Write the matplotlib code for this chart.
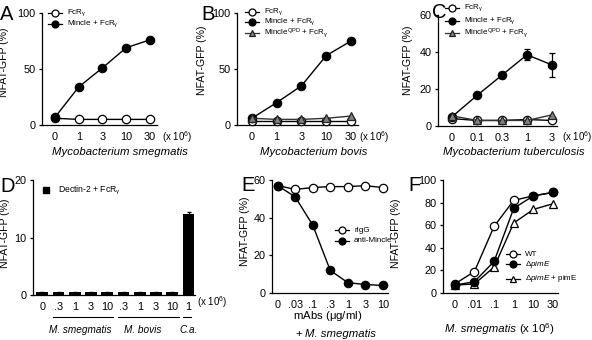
import matplotlib
matplotlib.use("Agg")
import matplotlib.pyplot as plt
from matplotlib.lines import Line2D

plt.rcParams["font.family"] = ["Liberation Sans", "DejaVu Sans"]
plt.rcParams["mathtext.fontset"] = "custom"
plt.rcParams["mathtext.rm"] = "Liberation Sans"
plt.rcParams["mathtext.it"] = "Liberation Sans:italic"
plt.rcParams["mathtext.default"] = "regular"

W, H = 592, 340

# panel A
a_x = ["0", "1", "3", "10", "30"]
a_fcr = [6, 5, 5, 5, 5]
a_mincle = [7, 34, 51, 69, 76]

# panel B
b_x = ["0", "1", "3", "10", "30"]
b_fcr = [4, 4, 4, 4, 4]
b_mincle = [6, 20, 35, 62, 75]
b_qpd = [6, 5, 5, 6, 8]

# panel C
c_x = ["0", "0.1", "0.3", "1", "3"]
c_fcr = [4, 3, 3, 3.5, 3]
c_mincle = [5, 16.5, 27.5, 38.5, 33]
c_mincle_err = [1, 1, 1.5, 3, 6.5]
c_qpd = [5.5, 3, 3, 3, 6]

# panel D
d_x = ["0", ".3", "1", "3", "10", ".3", "1", "3", "10", "1"]
d_vals = [0.5, 0.5, 0.45, 0.5, 0.45, 0.45, 0.5, 0.45, 0.45, 14.1]
d_err = [0.1, 0.1, 0.1, 0.1, 0.1, 0.1, 0.1, 0.1, 0.1, 0.3]
d_groups = ["M. smegmatis", "M. bovis", "C.a."]

# panel E
e_x = ["0", ".03", ".1", ".3", "1", "3", "10"]
e_rigg = [57, 55, 56, 56.5, 56.5, 57, 56]
e_anti = [57, 51, 36, 12, 5.5, 4.5, 4]

# panel F
f_x = ["0", ".01", ".1", "1", "10", "30"]
f_wt = [8, 19, 59, 82, 86, 89]
f_pime = [7, 10, 28, 75, 86, 89]
f_comp = [7, 8, 23, 62, 74, 79]

fig = plt.figure(figsize=(W / 100, H / 100), dpi=100)


def fx(x):
    return x / W


def fy(y):
    return 1 - y / H


def px_axes(left, top, right, bottom):
    return fig.add_axes([fx(left), fy(bottom), (right - left) / W, (bottom - top) / H])


def style(ax, labels, xlim, ylim, yticks, ylab_xy):
    ax.spines["top"].set_visible(False)
    ax.spines["right"].set_visible(False)
    ax.spines["left"].set_linewidth(0.9)
    ax.spines["bottom"].set_linewidth(0.9)
    ax.set_xlim(*xlim)
    ax.set_ylim(*ylim)
    ax.set_yticks(yticks)
    ax.set_xticks(range(len(labels)))
    ax.set_xticklabels(labels)
    ax.tick_params(axis="x", length=0, pad=5, labelsize=7.8)
    ax.tick_params(axis="y", length=2.5, width=0.9, direction="out", pad=2, labelsize=7.8)
    ax.set_ylabel("NFAT-GFP (%)", fontsize=7.6)
    ax.yaxis.set_label_coords(fx(ylab_xy[0]), fy(ylab_xy[1]), transform=fig.transFigure)


def figtext(x, y, s, **kw):
    kw.setdefault("fontsize", 8.2)
    kw.setdefault("ha", "center")
    kw.setdefault("va", "center")
    return fig.text(fx(x), fy(y), s, **kw)


def legend_row(xm, y, text, marker, mfc, mec="black", lc="black", ms=5):
    fig.add_artist(Line2D([fx(xm - 7), fx(xm + 7)], [fy(y), fy(y)], color=lc, lw=0.9,
                          transform=fig.transFigure))
    fig.add_artist(Line2D([fx(xm)], [fy(y)], marker=marker, mfc=mfc, mec=mec, ms=ms,
                          mew=0.9, transform=fig.transFigure))
    figtext(xm + 12, y, text, fontsize=5.8, ha="left")


open_kw = dict(marker="o", color="black", mfc="white", mec="black", ms=6, lw=1.0, mew=0.9,
               clip_on=False, zorder=3)
fill_kw = dict(marker="o", color="black", mfc="black", mec="black", ms=6, lw=1.0, mew=0.9,
               clip_on=False, zorder=4)
tri_kw = dict(marker="^", color="#333333", mfc="#808080", mec="#222222", ms=5.5, lw=1.0,
              mew=0.9, clip_on=False, zorder=5)

fcr = "FcR$_{\\gamma}$"
qpd = "Mincle$^{QPD}$ + " + fcr

# A
ax = px_axes(42, 13, 157, 125)
ax.plot(range(5), a_fcr, **open_kw)
ax.plot(range(5), a_mincle, **fill_kw)
style(ax, a_x, (-0.55, 4.3), (0, 100), [0, 50, 100], (9, 62))
figtext(120, 152, "Mycobacterium smegmatis", style="italic")
figtext(162, 137, "(x 10$^{6}$)", fontsize=7, ha="left")
legend_row(55, 13, fcr, "o", "white")
legend_row(55, 24, "Mincle + " + fcr, "o", "black")

# B
ax = px_axes(237, 13, 358, 125)
ax.plot(range(5), b_fcr, **open_kw)
ax.plot(range(5), b_mincle, **fill_kw)
ax.plot(range(5), b_qpd, **tri_kw)
style(ax, b_x, (-0.6, 4.28), (0, 100), [0, 50, 100], (207, 60))
figtext(314, 152, "Mycobacterium bovis", style="italic")
figtext(359, 137, "(x 10$^{6}$)", fontsize=7, ha="left")
legend_row(252, 12, fcr, "o", "white")
legend_row(252, 22, "Mincle + " + fcr, "o", "black")
legend_row(252, 33, qpd, "^", "#808080", mec="#222222", lc="#333333")

# C
ax = px_axes(438, 15, 557, 126)
ax.plot(range(5), c_fcr, **open_kw)
ax.errorbar(range(5), c_mincle, yerr=c_mincle_err, capsize=2.5, elinewidth=0.9,
            capthick=0.9, **fill_kw)
ax.plot(range(5), c_qpd, **tri_kw)
style(ax, c_x, (-0.56, 4.2), (0, 60), [0, 20, 40, 60], (413, 60))
figtext(514, 152, "Mycobacterium tuberculosis", style="italic")
figtext(562, 137, "(x 10$^{6}$)", fontsize=7, ha="left")
legend_row(452, 8, fcr, "o", "white")
legend_row(452, 21, "Mincle + " + fcr, "o", "black")
legend_row(452, 33, qpd, "^", "#808080", mec="#222222", lc="#333333")

# D
ax = px_axes(33, 180, 195, 295)
ax.bar(range(10), d_vals, width=0.72, color="black", yerr=d_err, capsize=1.5,
       error_kw=dict(lw=0.7))
style(ax, d_x, (-0.57, 9.4), (0, 20), [0, 10, 20], (10, 233))
figtext(197, 302, "(x 10$^{6}$)", fontsize=7, ha="left")
fig.add_artist(Line2D([fx(46)], [fy(190)], marker="s", color="black", ms=4.5,
                      transform=fig.transFigure))
figtext(58, 190, "Dectin-2 + " + fcr, fontsize=6.2, ha="left")
spans = [(0.65, 4.35), (4.65, 8.4), (8.65, 9.15)]
for x0, x1 in spans:
    ax.plot([x0, x1], [-3.8, -3.8], color="black", lw=0.8, clip_on=False)
for name, x in zip(d_groups, [80, 143, 189]):
    figtext(x, 330, name, style="italic", fontsize=7.2)

# E
ax = px_axes(272, 180, 388, 293)
ax.plot(range(7), e_rigg, **open_kw)
ax.plot(range(7), e_anti, **fill_kw)
style(ax, e_x, (-0.33, 6.3), (0, 60), [0, 20, 40, 60], (250, 231))
figtext(328, 316, "mAbs ($\\mu$g/ml)")
figtext(302, 334, "+", ha="right")
figtext(305, 334, "M. smegmatis", style="italic", ha="left")
legend_row(342, 230, "rIgG", "o", "white")
legend_row(342, 241, "anti-Mincle", "o", "black")

# F
ax = px_axes(443, 180, 558, 293)
ax.plot(range(6), f_wt, **open_kw)
ax.plot(range(6), f_pime, **fill_kw)
ax.plot(range(6), f_comp, marker="^", color="black", mfc="white", mec="black", ms=6,
        lw=1.0, mew=0.9, clip_on=False, zorder=2)
style(ax, f_x, (-0.6, 5.25), (0, 100), [0, 20, 40, 60, 80, 100], (401, 233))
t = figtext(445, 329, "M. smegmatis", style="italic", ha="left")
ax.annotate(" (x 10$^{6}$)", xy=(1, 0.5), xycoords=t, va="center", ha="left",
            fontsize=8.2, annotation_clip=False)
legend_row(513, 254, "WT", "o", "white")
legend_row(513, 264, "$\\Delta\\it{pimE}$", "o", "black")
legend_row(513, 279, "$\\Delta\\it{pimE}$ + pimE", "^", "white")

for letter, x, y in [("A", 0, 5), ("B", 201, 5), ("C", 432, 3),
                     ("D", 0, 177), ("E", 241, 176), ("F", 408, 176)]:
    fig.text(fx(x), fy(y), letter, fontsize=14.5, va="top", ha="left")

fig.savefig("out.png", dpi=100)
